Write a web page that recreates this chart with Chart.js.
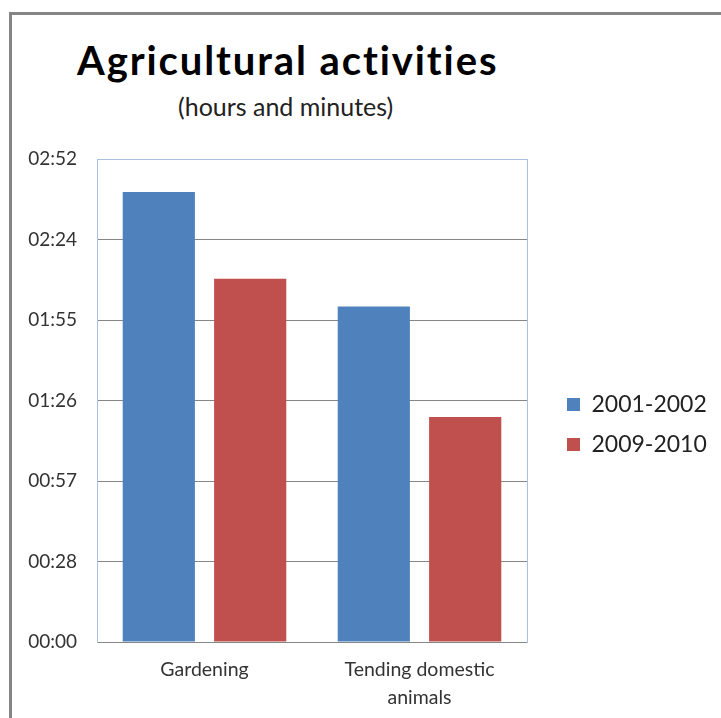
<!DOCTYPE html>
<html>
<head>
<meta charset="utf-8">
<script src="https://cdn.jsdelivr.net/npm/chart.js@4/dist/chart.umd.min.js"></script>
<style>
  body { margin: 0; background: #fff; }
  #wrap { position: relative; width: 721px; height: 718px; overflow: hidden; }
  #frame { position: absolute; left: 9px; top: 12px; width: 720px; height: 720px;
           border-left: 3px solid #858585; border-top: 3px solid #858585; box-sizing: border-box; }
  #title { position: absolute; left: 77px; top: 36px; font: bold 40px Lato, sans-serif; color: #000; white-space: nowrap; letter-spacing: 1.9px; }
  #subtitle { position: absolute; left: 178px; top: 91px; font: 25px Lato, sans-serif; color: #222; white-space: nowrap; }
  canvas { position: absolute; left: 0; top: 0; }
</style>
</head>
<body>
<div id="wrap">
  <div id="frame"></div>
  <div id="title">Agricultural activities</div>
  <div id="subtitle">(hours and minutes)</div>
  <canvas id="bar-chart" width="721" height="718"></canvas>
</div>
<script>
// Datos (minutos)
const categories = ['Gardening', ['Tending domestic', 'animals']];
const seriesNames = ['2001-2002', '2009-2010'];
const values2001 = [161, 120];
const values2009 = [130, 80.5];
const tickLabels = ['00:00', '00:28', '00:57', '01:26', '01:55', '02:24', '02:52'];

const blue = '#4f81bd';
const red = '#c0504d';
const gridGray = '#868686';
const frameBlue = '#a9c0e2';
const legendWidth = 171;
const legendTop = 131;

// Leyenda: ancho fijo y caja un poco más alta para centrarla como en el original
const legendFit = {
  id: 'legendFit',
  beforeInit(chart) {
    const fit = chart.legend.fit;
    chart.legend.fit = function () {
      fit.call(this);
      this.width = legendWidth;
    };
  },
  afterLayout(chart) {
    chart.legend.top = legendTop;
  }
};

const ctx = document.getElementById('bar-chart').getContext('2d');

new Chart(ctx, {
  type: 'bar',
  data: {
    labels: categories,
    datasets: [
      { label: seriesNames[0], data: values2001, backgroundColor: blue },
      { label: seriesNames[1], data: values2009, backgroundColor: red }
    ]
  },
  plugins: [legendFit],
  options: {
    responsive: false,
    animation: false,
    categoryPercentage: 0.85,
    barPercentage: 0.79,
    layout: { padding: { top: 159, left: 20, right: 0, bottom: 0 } },
    plugins: {
      title: { display: false },
      tooltip: { enabled: false },
      legend: {
        position: 'right',
        labels: {
          boxWidth: 13,
          boxHeight: 13,
          padding: 17,
          color: '#222',
          font: { family: 'Lato', size: 23 }
        }
      }
    },
    scales: {
      x: {
        grid: { display: false, drawTicks: false },
        border: { color: gridGray },
        ticks: {
          padding: 14,
          color: '#333',
          font: { family: 'Lato', size: 19.5, lineHeight: 1.42 }
        },
        afterFit: s => { s.height = 76; }
      },
      y: {
        min: 0,
        max: 172.8,
        grid: {
          drawTicks: false,
          color: c => (c.index === tickLabels.length - 1 ? frameBlue : gridGray)
        },
        border: { color: frameBlue },
        ticks: {
          stepSize: 28.8,
          padding: 20,
          color: '#333',
          font: { family: 'Lato', size: 19 },
          callback: (v, i) => tickLabels[i]
        },
        afterFit: s => { s.width = 77; }
      },
      yRight: {
        position: 'right',
        grid: { display: false, drawTicks: false },
        border: { display: true, color: frameBlue },
        ticks: { display: false },
        afterFit: s => { s.width = 23; }
      }
    }
  }
});
</script>
</body>
</html>
